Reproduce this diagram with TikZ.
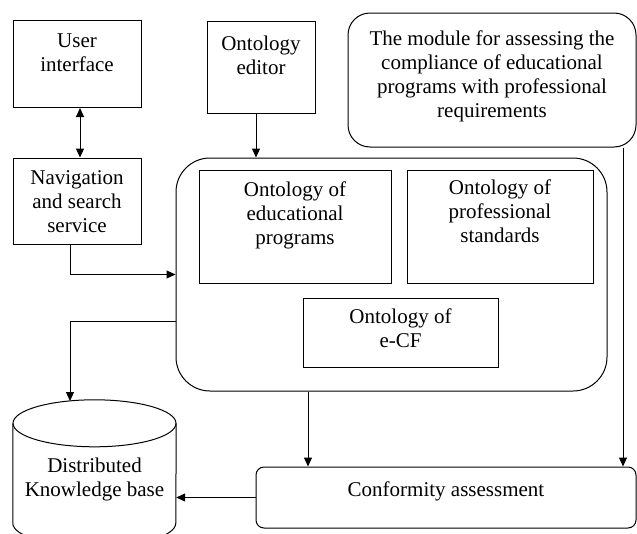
\documentclass[tikz,border=0pt]{standalone}
\usepackage{fontspec}
\setmainfont{Liberation Serif}
\usetikzlibrary{arrows.meta}

\begin{document}
\begin{tikzpicture}[x=1pt, y=-1pt,
    >={Triangle[length=9pt,width=8pt]},
    box/.style={draw, line width=1pt, inner sep=0pt},
    txt/.style={font=\fontsize{21}{24}\selectfont, align=center, inner sep=0pt, anchor=north},
    arr/.style={line width=1pt, ->}]

    \useasboundingbox (0,0) rectangle (637,533);
    \clip (0,0) rectangle (637,533);

    % User interface and navigation on the left
    \node[box, minimum width=128, minimum height=87] (ui) at (77,64) {};
    \node[txt] (uitxt) at (77,33.5) {User\\interface};
    \node[box, minimum width=128, minimum height=86] (nav) at (77,201) {};
    \node[txt] (navtxt) at (77,170.5) {Navigation\\and search\\service};

    % Ontology editor
    \node[box, minimum width=108, minimum height=92] (editor) at (261,67) {};
    \node[txt] (edtxt) at (261,35.5) {Ontology\\editor};

    % Assessment module, top right
    \node[box, rounded corners=22, minimum width=288, minimum height=134] (module) at (492,80) {};
    \node[txt] (modtxt) at (492,31) {The module for assessing the\\compliance of educational\\programs with professional\\requirements};

    % Big rounded box holding the three ontologies
    \node[box, rounded corners=34, minimum width=431, minimum height=233] (onto) at (391.5,274.5) {};
    \node[box, minimum width=192, minimum height=113] (edu) at (295,226.5) {};
    \node[txt] (edutxt) at (295,181.5) {Ontology of\\educational\\programs};
    \node[box, minimum width=186, minimum height=113] (prof) at (500,226.5) {};
    \node[txt] (proftxt) at (500,180) {Ontology of\\professional\\standards};
    \node[box, minimum width=195, minimum height=69] (ecf) at (400.5,332.5) {};
    \node[txt] (ecftxt) at (400.5,308.5) {Ontology of\\e-CF};

    % Conformity assessment
    \node[box, rounded corners=8, minimum width=380, minimum height=61] (conf) at (446,497.5) {};
    \node[txt] (conftxt) at (446,481.5) {Conformity assessment};

    % Knowledge base cylinder
    \node[minimum width=163, minimum height=99.5, inner sep=0pt] (kb) at (94.5,473.25) {};
    \draw[line width=1pt] (kb.north west) -- (kb.south west)
        arc[start angle=180, end angle=360, x radius=81.5pt, y radius=23.5pt] -- (kb.north east);
    \draw[line width=1pt] (kb.north) ellipse [x radius=81.5pt, y radius=23.5pt];
    \node[txt] (kbtxt) at (94.5,457.5) {Distributed\\Knowledge base};
    \coordinate (kbtop) at (70,401);

    % Connectors
    \draw[line width=1pt, <->] ([xshift=3pt]ui.south) -- ([xshift=3pt]nav.north);
    \coordinate (e1) at ([xshift=-5pt]editor.south);
    \draw[arr] (e1) -- (e1 |- onto.north);
    \coordinate (n1) at ([xshift=-7pt]nav.south);
    \draw[arr] (n1) |- (onto.west);
    \coordinate (o2) at ([yshift=-46.5pt]onto.west);
    \draw[arr] (o2) -| (kbtop);
    \coordinate (o1) at ([xshift=-83.5pt]onto.south);
    \draw[arr] (o1) -- (o1 |- conf.north);
    \coordinate (m1) at ([xshift=131pt]module.south);
    \draw[arr] (m1) -- (m1 |- conf.north);
    \draw[arr] (conf.west) -- (conf.west -| kb.east);

\end{tikzpicture}
\end{document}
